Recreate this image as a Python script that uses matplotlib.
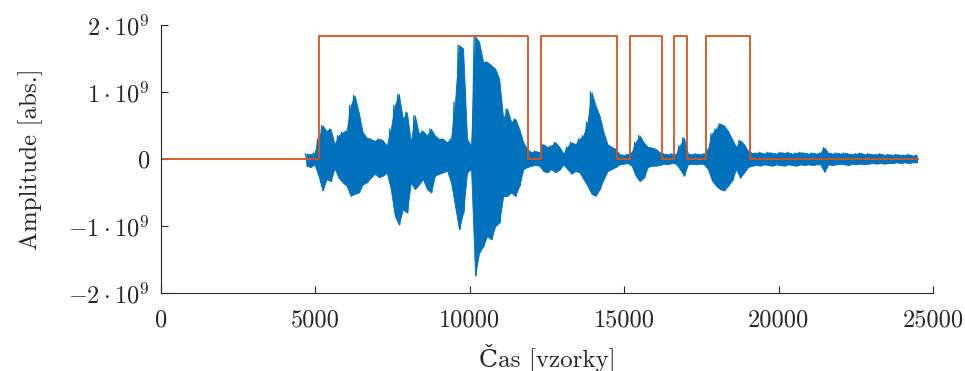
import numpy as np
import matplotlib.pyplot as plt

plt.rcParams['font.family'] = 'cmr10'
plt.rcParams['mathtext.fontset'] = 'cm'
plt.rcParams['axes.formatter.use_mathtext'] = True

# signal envelope, one value per block of 130 samples (units of 1e9)
block_start = 4680
block_len = 130
env_upper = [0.08, 0.07, 0.09, 0.30, 0.50, 0.42, 0.45, 0.22, 0.35, 0.40,
             0.42, 0.80, 0.95, 0.70, 0.40, 0.32, 0.30, 0.27, 0.30, 0.28,
             0.20, 0.45, 0.80, 0.97, 0.60, 0.70, 0.25, 0.65, 0.38, 0.42,
             0.35, 0.45, 0.35, 0.30, 0.30, 0.25, 0.30, 0.85, 1.70, 1.65,
             0.30, 0.20, 1.83, 1.75, 1.45, 1.45, 1.40, 1.35, 1.20, 0.60,
             0.75, 0.55, 0.60, 0.45, 0.25, 0.15, 0.10, 0.12, 0.10, 0.22,
             0.18, 0.20, 0.25, 0.18, 0.08, 0.18, 0.25, 0.22, 0.30, 0.35,
             0.55, 1.00, 0.80, 0.65, 0.40, 0.22, 0.18, 0.15, 0.07, 0.06,
             0.07, 0.10, 0.25, 0.35, 0.25, 0.18, 0.17, 0.15, 0.10, 0.08,
             0.07, 0.08, 0.07, 0.20, 0.32, 0.08, 0.07, 0.08, 0.07, 0.08,
             0.15, 0.38, 0.45, 0.53, 0.50, 0.42, 0.30, 0.18, 0.28, 0.22,
             0.12, 0.09, 0.09, 0.10, 0.08, 0.10, 0.09, 0.08, 0.10, 0.09,
             0.10, 0.08, 0.09, 0.10, 0.09, 0.08, 0.09, 0.08, 0.09, 0.17,
             0.09, 0.08, 0.09, 0.08, 0.09, 0.08, 0.07, 0.08, 0.09, 0.07,
             0.08, 0.07, 0.07, 0.08, 0.06, 0.07, 0.06, 0.07, 0.06, 0.06,
             0.07, 0.05, 0.06]
env_lower = [-0.10, -0.12, -0.08, -0.25, -0.47, -0.30, -0.33, -0.14, -0.28, -0.35,
             -0.40, -0.55, -0.52, -0.50, -0.38, -0.35, -0.28, -0.22, -0.27, -0.25,
             -0.20, -0.45, -0.85, -0.98, -0.75, -0.80, -0.35, -0.45, -0.38, -0.30,
             -0.45, -0.50, -0.25, -0.22, -0.20, -0.17, -0.35, -0.70, -1.05, -0.80,
             -0.20, -0.15, -1.74, -1.40, -1.30, -1.15, -1.20, -1.00, -0.95, -0.55,
             -0.55, -0.50, -0.55, -0.40, -0.15, -0.12, -0.10, -0.09, -0.10, -0.18,
             -0.20, -0.15, -0.20, -0.16, -0.08, -0.15, -0.22, -0.18, -0.20, -0.30,
             -0.40, -0.52, -0.55, -0.45, -0.30, -0.18, -0.15, -0.12, -0.08, -0.07,
             -0.06, -0.10, -0.25, -0.33, -0.28, -0.12, -0.10, -0.10, -0.09, -0.07,
             -0.08, -0.06, -0.07, -0.15, -0.25, -0.08, -0.07, -0.08, -0.07, -0.08,
             -0.15, -0.32, -0.40, -0.45, -0.47, -0.40, -0.32, -0.15, -0.28, -0.20,
             -0.12, -0.10, -0.09, -0.10, -0.08, -0.09, -0.10, -0.08, -0.09, -0.10,
             -0.08, -0.09, -0.10, -0.08, -0.09, -0.08, -0.09, -0.08, -0.08, -0.19,
             -0.08, -0.09, -0.08, -0.07, -0.08, -0.09, -0.07, -0.08, -0.07, -0.08,
             -0.07, -0.06, -0.07, -0.06, -0.07, -0.06, -0.06, -0.05, -0.06, -0.05,
             -0.06, -0.05, -0.05]

# voice activity segments (sample indices) and detector output level
vad_on = [5120, 12300, 15180, 16620, 17650]
vad_off = [11890, 14770, 16210, 17020, 19080]
vad_level = 1.83e9
n_samples = 24500

blue = '#0072BD'
orange = '#D95319'

up = np.array(env_upper) * 1e9
lo = np.array(env_lower) * 1e9
xs = block_start + block_len * np.arange(len(up))

# zigzag between block peaks to mimic the dense waveform
zx = np.empty(2 * len(xs))
zy = np.empty(2 * len(xs))
zx[0::2] = xs
zx[1::2] = xs + block_len / 2
zy[0::2] = up
zy[1::2] = lo

vx = [0]
vy = [0]
for a, b in zip(vad_on, vad_off):
    vx += [a, b]
    vy += [vad_level, 0]
vx.append(n_samples)
vy.append(0)

fig = plt.figure(figsize=(9.65, 3.71), dpi=100)
ax = fig.add_axes([0.1668, 0.2102, 0.80, 0.7224])

ax.fill_between(xs + block_len / 4, lo, up, color=blue, lw=0.6)
ax.plot(zx, zy, color=blue, lw=0.9)
ax.step(vx, vy, where='post', color=orange, lw=1.3)

ax.set_xlim(0, 25000)
ax.set_ylim(-2e9, 2e9)
ax.set_xticks([0, 5000, 10000, 15000, 20000, 25000])
ax.set_xticklabels(['0', '5000', '10000', '15000', '20000', '25000'])
ax.set_yticks([-2e9, -1e9, 0, 1e9, 2e9])
ax.set_yticklabels([r'$-2\cdot10^9$', r'$-1\cdot10^9$', r'$0$',
                    r'$1\cdot10^9$', r'$2\cdot10^9$'])
ax.tick_params(direction='in', length=5, width=0.8, labelsize=17.5, colors='#262626')
ax.tick_params(axis='x', pad=12)
ax.tick_params(axis='y', pad=8)
for s in ['top', 'right']:
    ax.spines[s].set_visible(False)
for s in ['left', 'bottom']:
    ax.spines[s].set_color('#262626')
    ax.spines[s].set_linewidth(0.8)

ax.set_xlabel('Čas [vzorky]', fontsize=18, color='#262626', labelpad=8,
              family=['cmr10', 'DejaVu Serif'])
ax.set_ylabel('Amplitude [abs.]', fontsize=18, color='#262626', labelpad=18)

fig.savefig('out.png', dpi=100)
